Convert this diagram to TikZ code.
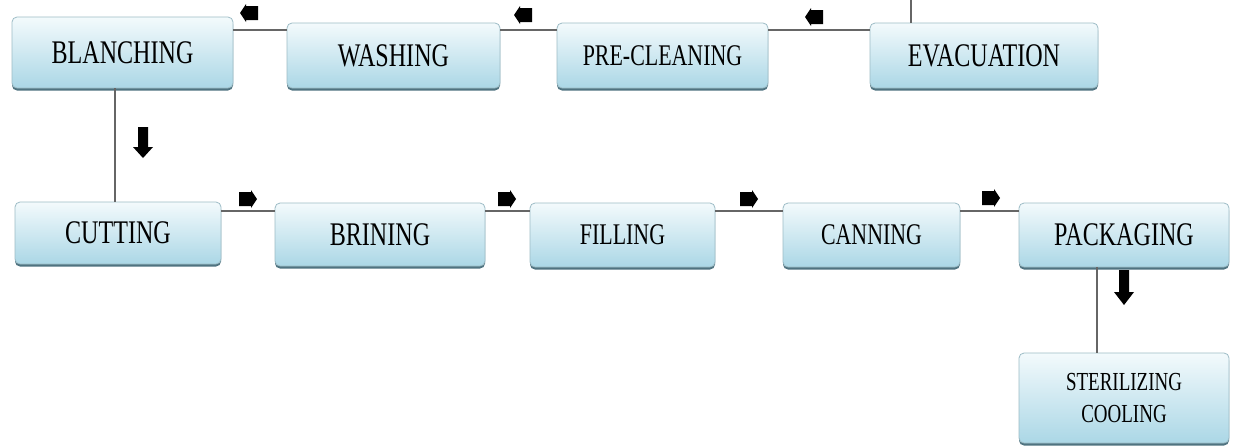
\documentclass[tikz,border=0pt]{standalone}
\usepackage{fontspec}
\newfontfamily\dfont[FakeStretch=0.73]{Liberation Serif}
\definecolor{boxtop}{HTML}{F3FAFC}
\definecolor{boxbot}{HTML}{ABD7E6}
\definecolor{boxedge}{HTML}{9DBCC6}
\definecolor{boxshadow}{HTML}{4F7380}
\definecolor{linec}{HTML}{666666}
\tikzset{
  box/.style={rounded corners=5pt, draw=boxedge, line width=0.8pt,
    top color=boxtop, bottom color=boxbot, inner sep=0pt, align=center,
    preaction={fill=boxshadow, transform canvas={yshift=-2.5pt}},
    font=\dfont\fontsize{33}{36}\selectfont},
  mid/.style={font=\dfont\fontsize{30}{34}\selectfont},
  small/.style={font=\dfont\fontsize{26}{32}\selectfont},
  conn/.style={draw=linec, line width=1.4pt},
  larr/.pic={\fill[black] (-9,0) -- (-3,-9) -- (-3,-7) -- (9,-7) -- (9,7) -- (-3,7) -- (-3,9) -- cycle;},
  rarr/.pic={\fill[black] (9,0) -- (3,-9) -- (3,-7) -- (-9,-7) -- (-9,7) -- (3,7) -- (3,9) -- cycle;},
  darrs/.pic={\fill[black] (-5,0) -- (5,0) -- (5,20) -- (10,20) -- (0,31) -- (-10,20) -- (-5,20) -- cycle;},
  darrl/.pic={\fill[black] (-5,0) -- (5,0) -- (5,22) -- (10,22) -- (0,35) -- (-10,22) -- (-5,22) -- cycle;}
}
\begin{document}
\begin{tikzpicture}[x=1pt,y=-1pt]
\useasboundingbox[fill=white] (0,0) rectangle (1233,445);
% top row
\node[box, minimum width=221pt, minimum height=71pt] (blanch) at (122.5,52.5) {BLANCHING};
\node[box, minimum width=213pt, minimum height=65pt] (wash) at (393.5,55.5) {WASHING};
\node[box, mid, minimum width=211pt, minimum height=65pt] (precl) at (662.5,55.5) {PRE-CLEANING};
\node[box, minimum width=228pt, minimum height=65pt] (evac) at (984,55.5) {EVACUATION};
% bottom row
\node[box, minimum width=206pt, minimum height=62pt] (cut) at (118,233) {CUTTING};
\node[box, minimum width=210pt, minimum height=63pt] (brin) at (380,234.5) {BRINING};
\node[box, mid, minimum width=185pt, minimum height=64pt] (fill) at (622.5,235) {FILLING};
\node[box, mid, minimum width=177pt, minimum height=64pt] (can) at (871.5,235) {CANNING};
\node[box, minimum width=210pt, minimum height=64pt] (pack) at (1124,235) {PACKAGING};
\node[box, small, minimum width=210pt, minimum height=90pt] (ster) at (1124,398) {STERILIZING\\COOLING};
% helper coordinates
\coordinate (yt) at (0,30);
\coordinate (yb) at (0,211);
\coordinate (xl) at (115,0);
\coordinate (xr) at (1097,0);
\coordinate (evtop) at (911,0);
% connectors
\draw[conn] (blanch.east |- yt) -- (wash.west |- yt);
\draw[conn] (wash.east |- yt) -- (precl.west |- yt);
\draw[conn] (precl.east |- yt) -- (evac.west |- yt);
\draw[conn] (evac.north -| evtop) -- (evtop);
\draw[conn] (blanch.south -| xl) -- (cut.north -| xl);
\draw[conn] (cut.east |- yb) -- (brin.west |- yb);
\draw[conn] (brin.east |- yb) -- (fill.west |- yb);
\draw[conn] (fill.east |- yb) -- (can.west |- yb);
\draw[conn] (can.east |- yb) -- (pack.west |- yb);
\draw[conn] (pack.south -| xr) -- (ster.north -| xr);
% arrow marks
\pic at (249,13) {larr};
\pic at (523,15) {larr};
\pic at (814,17) {larr};
\pic at (248,199) {rarr};
\pic at (507,199) {rarr};
\pic at (749,199) {rarr};
\pic at (991,198) {rarr};
\pic at (143,127) {darrs};
\pic at (1124,270) {darrl};
\end{tikzpicture}
\end{document}
